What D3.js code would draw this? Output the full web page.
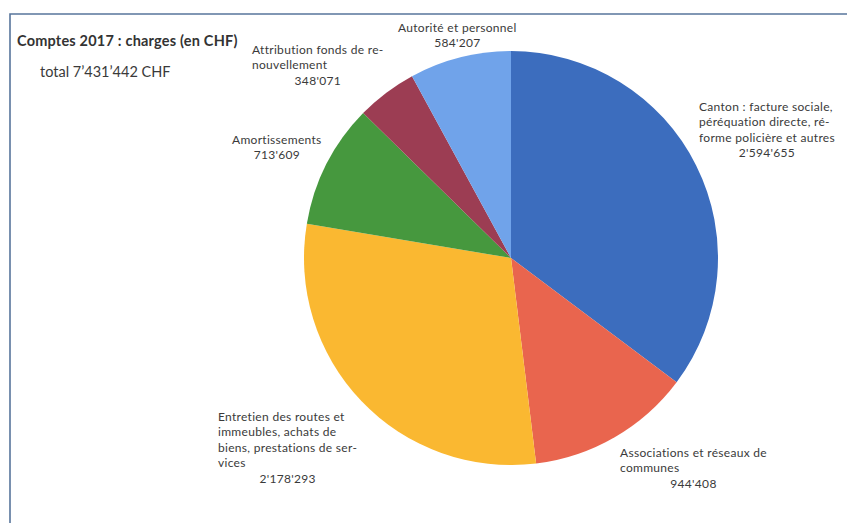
<!DOCTYPE html>
<html>
<head>
<meta charset="utf-8">
<script src="https://cdn.jsdelivr.net/npm/d3@7"></script>
<style>
  body { margin: 0; background: #ffffff; }
  text { font-family: Lato, "Open Sans", sans-serif; fill: #3a3a3a; }
</style>
</head>
<body>
<div id="chart"></div>
<script>
// chart data
var categories = [
    'Canton : facture sociale,|péréquation directe, ré-|forme policière et autres',
    'Associations et réseaux de|communes',
    'Entretien des routes et|immeubles, achats de|biens, prestations de ser-|vices',
    'Amortissements',
    'Attribution fonds de re-|nouvellement',
    'Autorité et personnel'
];
var values = [2594655, 944408, 2178293, 713609, 348071, 584207];
var valueLabels = ["2'594'655", "944'408", "2'178'293", "713'609", "348'071", "584'207"];
var totalLabel = 'total 7\u2019431\u2019442 CHF';
var title = 'Comptes 2017 : charges (en CHF)';

// some constants for the page
var width = 847;
var height = 523;
var cx = 511;
var cy = 258;
var radius = 207;
var lineHeight = 15.4;
var labelFont = '12px';
var colors = ['#3c6dbe', '#e9654e', '#fab831', '#46983e', '#9c3d53', '#70a3ea'];

// where each label block sits (left x, first line y)
var labelLayout = [
    [699, 111],
    [620, 457],
    [218, 421],
    [232, 144],
    [252, 54],
    [398, 32]
];

var svg = d3.select('#chart')
    .append('svg')
    .attr('width', width)
    .attr('height', height);

svg.append('rect')
    .attr('width', width)
    .attr('height', height)
    .attr('fill', '#ffffff');

// chart frame (runs past the photo on the right and bottom)
svg.append('path')
    .attr('d', 'M10,' + height + ' L10,14 L' + width + ',14')
    .attr('fill', 'none')
    .attr('stroke', '#58759c')
    .attr('stroke-width', 1.6);

svg.append('text')
    .attr('x', 17)
    .attr('y', 46)
    .style('font-weight', 'bold')
    .style('font-size', '14.5px')
    .style('letter-spacing', '0.2px')
    .style('fill', '#333333')
    .text(title);

svg.append('text')
    .attr('x', 40)
    .attr('y', 77)
    .style('font-size', '14.5px')
    .text(totalLabel);

// pie
var pie = d3.pie().sort(null).value(d => d);
var arc = d3.arc().innerRadius(0).outerRadius(radius);

var slices = svg.append('g')
    .attr('transform', 'translate(' + cx + ',' + cy + ')');

slices.selectAll('path')
    .data(pie(values))
    .enter()
    .append('path')
    .attr('d', arc)
    .attr('fill', (d, i) => colors[i]);

// data labels
var labels = svg.append('g');

categories.forEach(function(cat, i) {
    var lines = cat.split('|');
    var g = labels.append('g');
    var x = labelLayout[i][0];
    var y = labelLayout[i][1];
    var maxW = 0;
    lines.forEach(function(line, j) {
        var t = g.append('text')
            .attr('x', x)
            .attr('y', y + j * lineHeight)
            .style('font-size', labelFont)
            .style('letter-spacing', '0.3px')
            .text(line);
        maxW = Math.max(maxW, t.node().getComputedTextLength());
    });
    g.append('text')
        .attr('x', x + maxW / 2)
        .attr('y', y + lines.length * lineHeight)
        .style('font-size', labelFont)
        .style('letter-spacing', '0.3px')
        .style('text-anchor', 'middle')
        .text(valueLabels[i]);
});
</script>
</body>
</html>
